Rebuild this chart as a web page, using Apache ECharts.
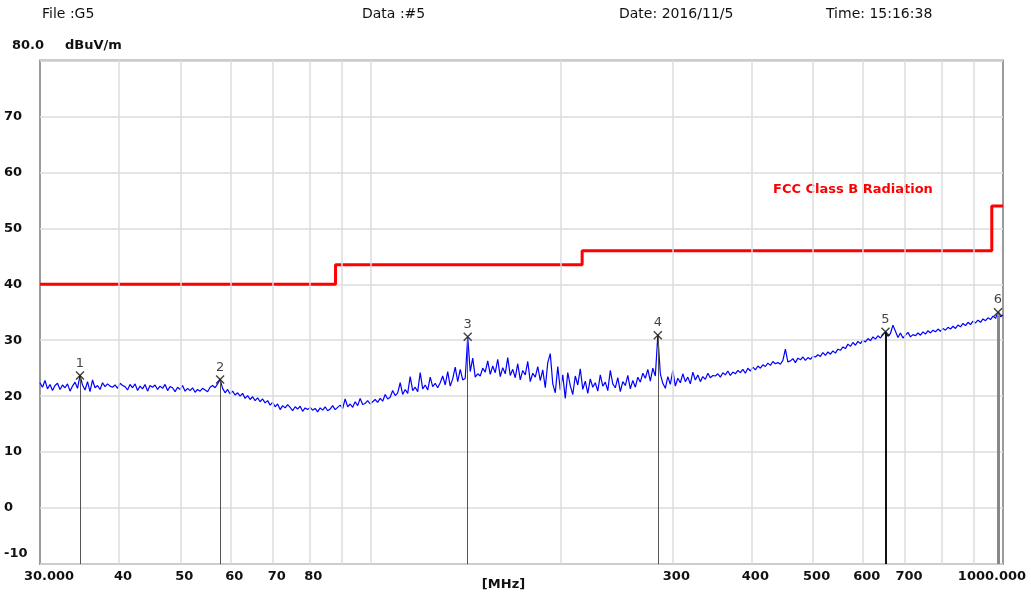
<!DOCTYPE html>
<html><head><meta charset="utf-8">
<script src="https://cdn.jsdelivr.net/npm/echarts@6/dist/echarts.min.js"></script>
<style>html,body{margin:0;padding:0;background:#fff}#c{width:1031px;height:596px}</style>
</head><body><div id="c"></div>
<script>
// ---- data ----
const sweepStart = 30, sweepStop = 1000;   // MHz, log sweep
const traceValues = [
 22.4,21.6,22.8,21.3,22.1,21.0,21.9,22.3,21.2,22.0,
 21.5,22.2,20.9,21.8,22.5,21.4,23.7,22.0,21.1,22.6,
 20.8,22.9,21.5,21.9,21.2,22.4,21.7,22.2,21.8,21.6,
 22.0,21.4,22.3,21.9,21.7,21.1,22.1,21.5,22.2,21.0,
 21.8,21.3,22.1,20.9,21.9,21.6,22.0,21.2,21.8,21.4,
 22.1,21.0,21.7,21.5,20.8,21.6,21.2,21.9,20.9,21.4,
 21.0,21.5,20.7,21.2,20.9,21.4,21.1,20.8,21.6,21.9,
 21.5,22.2,23.0,21.4,20.6,21.2,20.4,20.9,20.2,20.6,
 20.0,20.5,19.6,20.1,19.4,19.9,19.2,19.7,19.0,19.5,
 18.8,19.2,18.4,18.9,18.1,18.6,17.6,18.3,17.9,18.5,
 18.0,17.4,18.1,17.7,18.2,17.3,17.9,17.6,18.0,17.5,
 17.8,17.2,17.9,17.5,18.1,17.4,17.7,18.3,17.6,18.0,
 18.4,17.8,19.5,18.1,18.6,18.0,19.0,18.3,19.6,18.5,
 18.7,19.2,18.6,19.0,19.4,18.9,19.6,19.1,20.3,19.5,
 19.8,21.0,20.1,20.6,22.4,20.3,21.2,20.5,23.5,21.0,
 21.6,20.8,24.2,21.3,22.0,21.1,23.4,21.7,22.3,21.5,
 22.4,23.6,22.0,24.4,21.8,23.1,25.2,22.6,24.8,22.9,
 23.2,30.6,24.4,26.8,23.4,24.0,23.6,25.0,24.3,26.3,
 23.9,25.4,24.2,26.6,23.5,25.1,24.0,26.9,23.7,24.8,
 23.3,25.8,22.9,24.6,23.8,26.2,22.6,24.1,23.4,25.3,
 22.8,24.7,21.5,26.0,27.6,22.2,20.6,25.3,21.1,23.8,
 19.6,24.2,21.9,20.3,23.6,22.0,24.9,21.2,22.7,20.5,
 23.1,21.6,22.4,20.9,23.8,21.8,22.5,21.0,24.6,22.2,
 21.5,23.3,20.8,22.6,21.9,23.7,21.3,22.8,21.6,23.4,
 22.5,24.1,23.2,24.8,22.7,25.0,23.6,30.9,24.0,22.3,
 21.4,23.5,22.1,24.6,21.8,23.2,22.4,24.0,22.6,23.4,
 22.2,24.3,22.9,23.8,22.6,23.5,23.0,24.1,23.3,23.7,
 23.6,24.0,23.4,24.2,23.8,24.5,23.7,24.3,24.0,24.6,
 24.2,24.8,24.1,25.0,24.5,25.2,24.7,25.4,25.0,25.6,
 25.3,25.9,25.5,26.2,25.8,26.0,25.7,26.4,28.4,26.1,
 26.3,26.7,26.0,26.8,26.5,27.0,26.4,26.9,26.6,27.1,
 27.0,27.4,27.1,27.8,27.3,27.9,27.5,28.1,27.7,28.4,
 28.2,28.8,28.5,29.3,28.9,29.6,29.1,29.8,29.4,30.0,
 29.7,30.3,29.9,30.6,30.2,30.8,30.4,31.0,31.5,30.7,
 31.2,32.7,31.6,30.5,31.3,30.4,30.9,31.4,30.6,31.0,
 30.8,31.3,30.9,31.5,31.1,31.7,31.3,31.8,31.5,32.0,
 31.6,32.1,31.8,32.3,32.0,32.5,32.1,32.7,32.4,33.0,
 32.6,33.2,32.8,33.4,33.1,33.6,33.2,33.8,33.5,34.0,
 33.7,34.3,33.9,35.0,34.2,34.5
];
const limitFreq   = [30, 88, 88, 216, 216, 960, 960, 1000];
const limitValues = [40, 40, 43.5, 43.5, 46, 46, 54, 54];
const markerNames  = ['1', '2', '3', '4', '5', '6'];
const markerFreq   = [34.7, 57.8, 142.4, 284.5, 651.9, 981.9];
const markerValues = [23.7, 23.0, 30.6, 30.9, 31.5, 35.0];
const gridFreq   = [40, 50, 60, 70, 80, 90, 100, 200, 300, 400, 500, 600, 700, 800, 900];
const xTickFreq  = [30, 40, 50, 60, 70, 80, 300, 400, 500, 600, 700, 1000];
const xTickText  = ['30.000', '40', '50', '60', '70', '80', '300', '400', '500', '600', '700', '1000.000'];
const headerTexts = ['File :G5', 'Data :#5', 'Date: 2016/11/5', 'Time: 15:16:38'];
const limitName = 'FCC Class B Radiation';
const yUnit = 'dBuV/m';
const yTopLabel = '80.0';

// ---- build ----
const N = traceValues.length;
const traceData = traceValues.map((v, i) =>
  [sweepStart * Math.pow(sweepStop / sweepStart, i / (N - 1)), v]);
const limitData = limitFreq.map((f, i) => [f, limitValues[i]]);
const markerData = markerFreq.map((f, i) => ({ value: [f, markerValues[i]], name: markerNames[i] }));

const FONT = 'DejaVu Sans';
const labelMap = {};
xTickFreq.forEach((f, i) => labelMap[f] = xTickText[i]);

const gridLineData = [];
const allLines = Array.from(new Set([30].concat(gridFreq, [1000])));
allLines.forEach(f => {
  const item = { xAxis: f };
  const edge = (f === 30 || f === 1000);
  if (edge) item.lineStyle = { color: 'rgba(0,0,0,0)' };
  if (labelMap[f] === undefined) item.label = { show: false };
  else {
    let pad = [0, 0, 0, 8];
    if (f === 30) pad = [0, 0, 0, 18];
    if (f === 1000) pad = [0, 22, 0, 0];
    item.label = { padding: pad };
  }
  gridLineData.push(item);
});

const markerLines = markerFreq.map((f, i) => {
  let ls = { color: '#555', width: 1, type: 'solid' };
  if (i === 4) ls = { color: '#111', width: 2, type: 'solid' };
  if (i === 5) ls = { color: '#888', width: 3, type: 'solid' };
  return [{ coord: [f, -10], lineStyle: ls }, { coord: [f, markerValues[i]] }];
});

const chart = echarts.init(document.getElementById('c'), null, { renderer: 'canvas' });
chart.setOption({
  animation: false,
  backgroundColor: '#fff',
  grid: { left: 40, right: 28, top: 60.5, bottom: 28, show: true,
          borderColor: '#9a9a9a', borderWidth: 2, backgroundColor: 'rgba(0,0,0,0)' },
  graphic: [
    { type: 'text', left: 42, top: 7, style: { text: headerTexts[0], font: '14px "' + FONT + '"', fill: '#111' } },
    { type: 'text', left: 362, top: 7, style: { text: headerTexts[1], font: '14px "' + FONT + '"', fill: '#111' } },
    { type: 'text', left: 619, top: 7, style: { text: headerTexts[2], font: '14px "' + FONT + '"', fill: '#111' } },
    { type: 'text', left: 826, top: 7, style: { text: headerTexts[3], font: '14px "' + FONT + '"', fill: '#111' } },
    { type: 'text', left: 12, top: 39, style: { text: yTopLabel, font: 'bold 13px "' + FONT + '"', fill: '#111' } },
    { type: 'text', left: 65, top: 39, style: { text: yUnit, font: 'bold 13px "' + FONT + '"', fill: '#111' } },
    { type: 'text', left: 773, top: 183, style: { text: limitName, font: 'bold 13px "' + FONT + '"', fill: '#ff0000' } }
  ],
  xAxis: {
    type: 'log', logBase: 10, min: sweepStart, max: sweepStop,
    axisLine: { show: false }, axisTick: { show: false },
    axisLabel: { show: false }, splitLine: { show: false },
    name: '[MHz]', nameLocation: 'middle', nameGap: 14,
    nameTextStyle: { fontFamily: FONT, fontWeight: 'bold', fontSize: 13, color: '#111', padding: [0, 36, 0, 0] }
  },
  yAxis: {
    type: 'value', min: -10, max: 80, interval: 10,
    axisLine: { show: false }, axisTick: { show: false },
    splitLine: { lineStyle: { color: '#dcdcdc', width: 1.5 } },
    axisLabel: {
      align: 'left', margin: 36, fontFamily: FONT, fontWeight: 'bold', fontSize: 13, color: '#111',
      formatter: v => v === 80 ? '' : (v === -10 ? '{lo|-10}' : String(v)),
      rich: { lo: { fontFamily: FONT, fontWeight: 'bold', fontSize: 13, color: '#111', padding: [0, 0, 20, 0] } }
    }
  },
  series: [
    {
      name: 'grid', type: 'line', data: [], z: 1, silent: true,
      markLine: {
        silent: true, symbol: ['none', 'none'], animation: false,
        lineStyle: { color: '#dcdcdc', width: 1.5, type: 'solid' },
        label: { show: true, position: 'start', distance: 6, color: '#111',
                 fontFamily: FONT, fontWeight: 'bold', fontSize: 13,
                 formatter: p => labelMap[p.value] !== undefined ? labelMap[p.value] : '' },
        emphasis: { disabled: true },
        data: gridLineData
      }
    },
    {
      name: limitName, type: 'line', data: limitData, z: 3, symbol: 'none',
      lineStyle: { color: '#ff0000', width: 3 }, itemStyle: { color: '#ff0000' }
    },
    {
      name: 'trace', type: 'line', data: traceData, z: 4, symbol: 'none',
      lineStyle: { color: '#0000ff', width: 1.2 }, itemStyle: { color: '#0000ff' }
    },
    {
      name: 'markers', type: 'scatter', data: markerData, z: 5,
      symbol: 'path://M0,0L10,10M10,0L0,10', symbolSize: 8,
      itemStyle: { color: 'rgba(0,0,0,0)', borderColor: '#111', borderWidth: 1.4 },
      label: { show: true, position: 'top', distance: 1, formatter: p => p.name,
               fontFamily: FONT, fontSize: 13, color: '#111' },
      markLine: {
        silent: true, symbol: ['none', 'none'], animation: false,
        label: { show: false }, emphasis: { disabled: true },
        data: markerLines
      }
    }
  ]
});
</script></body></html>
